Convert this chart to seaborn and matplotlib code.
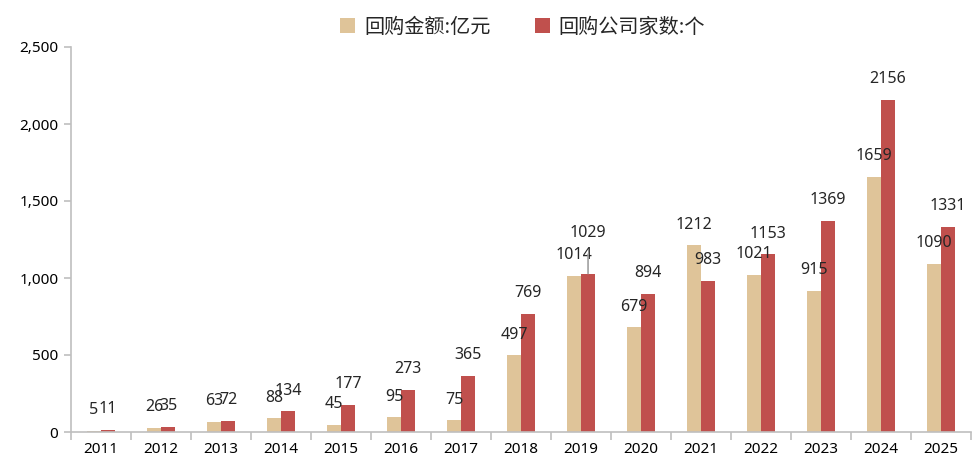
import matplotlib
matplotlib.use("Agg")
import matplotlib.pyplot as plt
import seaborn as sns
import pandas as pd
from matplotlib.ticker import FuncFormatter, FixedLocator

years = ["2011", "2012", "2013", "2014", "2015", "2016", "2017", "2018",
         "2019", "2020", "2021", "2022", "2023", "2024", "2025"]
amount = [5, 26, 63, 88, 45, 95, 75, 497, 1014, 679, 1212, 1021, 915, 1659, 1090]
companies = [11, 35, 72, 134, 177, 273, 365, 769, 1029, 894, 983, 1153, 1369, 2156, 1331]
series_names = ["回购金额:亿元", "回购公司家数:个"]
colors = ["#DFC499", "#C0504D"]

df = pd.DataFrame({
    "year": years * 2,
    "value": amount + companies,
    "series": [series_names[0]] * len(years) + [series_names[1]] * len(years),
})

sns.set_style("white")
plt.rcParams["font.family"] = ["Noto Sans", "Noto Sans CJK SC", "DejaVu Sans"]

fig = plt.figure(figsize=(9.75, 4.74), dpi=100)
ax = fig.add_axes([71 / 975, (474 - 432) / 474, 900 / 975, 385 / 474])

sns.barplot(data=df, x="year", y="value", hue="series", palette=colors,
            width=0.47, ax=ax, saturation=1, legend=True, linewidth=0)

ax.set_ylim(0, 2500)
ax.set_xlim(-0.5, len(years) - 0.5)
ax.set_xlabel("")
ax.set_ylabel("")
ax.yaxis.set_major_formatter(FuncFormatter(lambda v, p: f"{int(v):,}"))
ax.set_yticks(range(0, 2501, 500))

for s in ["top", "right"]:
    ax.spines[s].set_visible(False)
for s in ["left", "bottom"]:
    ax.spines[s].set_color("#BFBFBF")
    ax.spines[s].set_linewidth(1.2)

ax.tick_params(axis="y", which="major", direction="out", length=5, width=1.2,
               color="#BFBFBF", labelsize=11, labelcolor="#000000", left=True, pad=4)
ax.tick_params(axis="x", which="major", length=0, labelsize=11, pad=7,
               labelcolor="#000000")
ax.xaxis.set_minor_locator(FixedLocator([i - 0.5 for i in range(len(years) + 1)]))
ax.tick_params(axis="x", which="minor", direction="out", length=6, width=1.2,
               color="#BFBFBF", bottom=True)

# data labels
for ci, cont in enumerate(ax.containers):
    for i, bar in enumerate(cont):
        h = bar.get_height()
        x = bar.get_x() + bar.get_width() / 2
        val = amount[i] if ci == 0 else companies[i]
        if ci == 1 and years[i] == "2019":
            ax.annotate(f"{val}", xy=(x, h), xytext=(0, 29), textcoords="offset points",
                        ha="center", va="center", fontsize=11.5,
                        arrowprops=dict(arrowstyle="-", color="#A0A0A0", lw=1.2,
                                        shrinkA=7, shrinkB=0))
        else:
            ax.annotate(f"{val}", xy=(x, h), xytext=(0, 15), textcoords="offset points",
                        ha="center", va="center", fontsize=11.5)

handles, labels = ax.get_legend_handles_labels()
ax.legend_.remove()
fig.legend(handles, labels, loc="center", bbox_to_anchor=(0.536, 0.943), ncol=2,
           frameon=False, fontsize=14.5, handlelength=0.75, handleheight=0.75,
           columnspacing=2.2, handletextpad=0.45,
           prop={"family": ["Noto Sans CJK SC", "DejaVu Sans"], "size": 14.5})

fig.savefig("out.png", dpi=100)
